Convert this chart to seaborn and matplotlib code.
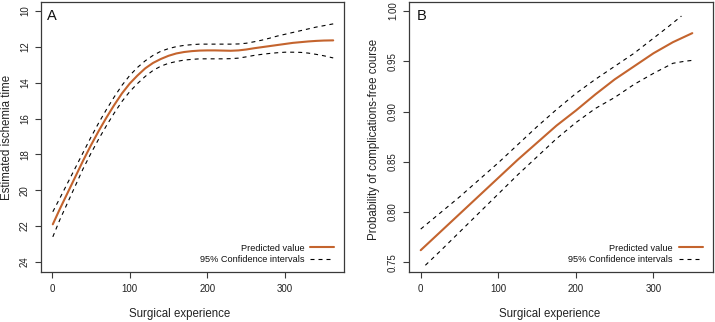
import matplotlib
matplotlib.use("Agg")
import matplotlib.pyplot as plt
import seaborn as sns
import pandas as pd

# ---------------- data ----------------
# Panel A: estimated ischemia time vs surgical experience
a_x = [1, 10, 20, 30, 40, 50, 60, 70, 80, 90, 100, 110, 120, 130, 140, 150, 160, 170, 180,
       190, 200, 210, 220, 230, 240, 250, 260, 270, 280, 290, 300, 310, 320, 330, 340, 350, 362]
a_pred = [21.9, 21.05, 20.15, 19.25, 18.35, 17.5, 16.7, 15.95, 15.25, 14.6, 14.05, 13.6, 13.2,
          12.9, 12.68, 12.5, 12.37, 12.29, 12.24, 12.21, 12.2, 12.2, 12.21, 12.22, 12.2, 12.15,
          12.08, 12.02, 11.96, 11.9, 11.84, 11.78, 11.74, 11.7, 11.67, 11.65, 11.64]
a_upper = [21.2, 20.45, 19.6, 18.75, 17.9, 17.05, 16.25, 15.5, 14.8, 14.15, 13.6, 13.15, 12.78,
           12.48, 12.25, 12.1, 11.99, 11.92, 11.88, 11.85, 11.85, 11.85, 11.85, 11.85, 11.84,
           11.8, 11.72, 11.63, 11.52, 11.4, 11.3, 11.2, 11.1, 11.0, 10.9, 10.82, 10.72]
a_lower = [22.6, 21.65, 20.7, 19.75, 18.8, 17.95, 17.15, 16.4, 15.7, 15.05, 14.5, 14.05, 13.65,
           13.32, 13.08, 12.92, 12.82, 12.74, 12.7, 12.67, 12.67, 12.67, 12.67, 12.66, 12.63,
           12.56, 12.48, 12.42, 12.37, 12.33, 12.3, 12.3, 12.31, 12.35, 12.42, 12.5, 12.62]

# Panel B: probability of complications-free course vs surgical experience
b_x = [0, 25, 50, 75, 100, 125, 150, 175, 200, 225, 250, 275, 300, 325, 350]
b_pred = [0.762, 0.780, 0.798, 0.816, 0.834, 0.852, 0.869, 0.886, 0.901, 0.917, 0.932,
          0.945, 0.958, 0.969, 0.978]
b_upper_x = [0, 25, 50, 75, 100, 125, 150, 175, 200, 225, 250, 275, 300, 320, 336]
b_upper = [0.783, 0.799, 0.815, 0.832, 0.849, 0.867, 0.885, 0.902, 0.918, 0.932, 0.945,
           0.958, 0.973, 0.985, 0.995]
b_lower_x = [6, 25, 50, 75, 100, 125, 150, 175, 200, 225, 250, 275, 300, 325, 340, 351]
b_lower = [0.747, 0.761, 0.780, 0.799, 0.818, 0.837, 0.855, 0.873, 0.889, 0.903, 0.914,
           0.927, 0.938, 0.948, 0.950, 0.951]

x_ticks = [0, 100, 200, 300]
a_yticks = [10, 12, 14, 16, 18, 20, 22, 24]
b_yticks = [0.75, 0.80, 0.85, 0.90, 0.95, 1.00]
b_yticklabels = ["0.75", "0.80", "0.85", "0.90", "0.95", "1.00"]

xlabel = "Surgical experience"
a_ylabel = "Estimated ischemia time"
b_ylabel = "Probability of complications-free course"
legend_labels = ["Predicted value", "95% Confidence intervals"]

# ---------------- style ----------------
sns.set_style("ticks")
plt.rcParams["font.family"] = ["Liberation Sans", "DejaVu Sans"]

ORANGE = "#C4642E"
SPINE = "#3a3a3a"
DASH = (0, (3.6, 3.6))

fig = plt.figure(figsize=(7.15, 3.22), dpi=100)
H = 322.0
W = 715.0
axA = fig.add_axes([41 / W, 1 - 272 / H, (344 - 41) / W, 270 / H])
axB = fig.add_axes([409 / W, 1 - 272 / H, (712.7 - 409) / W, 270 / H])

dfA = pd.DataFrame({"x": a_x, "pred": a_pred, "upper": a_upper, "lower": a_lower})
dfB = pd.DataFrame({"x": b_x, "pred": b_pred})
dfBu = pd.DataFrame({"x": b_upper_x, "y": b_upper})
dfBl = pd.DataFrame({"x": b_lower_x, "y": b_lower})

sns.lineplot(data=dfA, x="x", y="pred", ax=axA, color=ORANGE, lw=1.5, label=legend_labels[0])
sns.lineplot(data=dfA, x="x", y="upper", ax=axA, color="black", lw=0.8, linestyle=DASH,
             label=legend_labels[1])
sns.lineplot(data=dfA, x="x", y="lower", ax=axA, color="black", lw=0.8, linestyle=DASH)

sns.lineplot(data=dfB, x="x", y="pred", ax=axB, color=ORANGE, lw=1.5, label=legend_labels[0])
sns.lineplot(data=dfBu, x="x", y="y", ax=axB, color="black", lw=0.8, linestyle=DASH,
             label=legend_labels[1])
sns.lineplot(data=dfBl, x="x", y="y", ax=axB, color="black", lw=0.8, linestyle=DASH)

axA.set_xlim(-14.2, 375.9)
axA.set_ylim(24.56, 9.50)
axB.set_xlim(-15.1, 376.3)
axB.set_ylim(0.7403, 1.009)

axA.set_xticks(x_ticks)
axB.set_xticks(x_ticks)
axA.set_yticks(a_yticks)
axA.set_yticklabels([str(v) for v in a_yticks])
axB.set_yticks(b_yticks)
axB.set_yticklabels(b_yticklabels)

for ax, ylab, letter, lx in [(axA, a_ylabel, "A", 0.02), (axB, b_ylabel, "B", 0.024)]:
    for s in ax.spines.values():
        s.set_visible(True)
        s.set_color(SPINE)
        s.set_linewidth(0.9)
    ax.tick_params(axis="both", direction="out", length=4, width=0.8, color=SPINE,
                   labelsize=7, labelcolor="#222222")
    ax.tick_params(axis="x", pad=5)
    ax.tick_params(axis="y", pad=4)
    for t in ax.get_yticklabels():
        t.set_rotation(90)
        t.set_va("center")
    ax.set_xlabel(xlabel, fontsize=8.3, color="#222222")
    ax.set_ylabel(ylab, fontsize=8.3, color="#222222")
    ax.text(lx, 0.975, letter, transform=ax.transAxes, fontsize=10.5, ha="left", va="top",
            color="#111111")
    leg = ax.legend(loc="lower right", bbox_to_anchor=(0.967, 0.03), frameon=False,
                    markerfirst=False, fontsize=6.6, handlelength=2.6, handletextpad=0.65,
                    labelspacing=0.25, borderpad=0, borderaxespad=0)
    for t in leg.get_texts():
        t.set_color("#111111")

axA.xaxis.set_label_coords(0.459, -0.133)
axB.xaxis.set_label_coords(0.464, -0.133)
axA.yaxis.set_label_coords(-0.091, 0.5)
axB.yaxis.set_label_coords(-0.097, 0.49)

fig.savefig("out.png", dpi=100)
